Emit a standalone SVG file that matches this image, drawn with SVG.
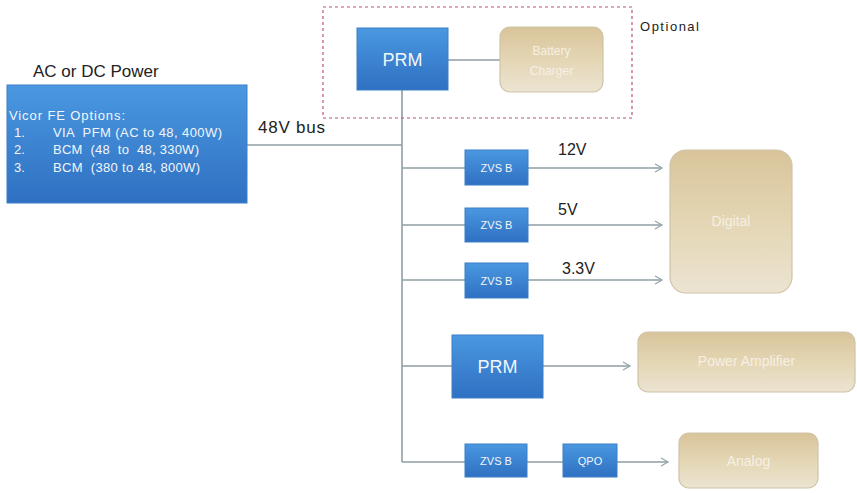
<svg xmlns="http://www.w3.org/2000/svg" width="857" height="493" viewBox="0 0 857 493">
<defs>
<linearGradient id="blue" x1="0" y1="0" x2="0" y2="1"><stop offset="0" stop-color="#4a98e0"/><stop offset="1" stop-color="#2f70c2"/></linearGradient>
<linearGradient id="tan" x1="0" y1="0" x2="0" y2="1"><stop offset="0" stop-color="#d8c49a"/><stop offset="0.5" stop-color="#e4d6b4"/><stop offset="1" stop-color="#ece4d2"/></linearGradient>
<marker id="arr" markerWidth="10" markerHeight="10" refX="8" refY="5" orient="auto" markerUnits="userSpaceOnUse"><path d="M1,1 L8,5 L1,9" fill="none" stroke="#97a6ad" stroke-width="1.3"/></marker>
</defs>
<style>
.b{fill:url(#blue);stroke:#3d7fc8;stroke-width:1}
.t{fill:url(#tan);stroke:#cfc3a8;stroke-width:1.2}
.ln{stroke:#8f9ea5;stroke-width:1.6;fill:none}
.w{fill:#f2f6fb;font-family:"Liberation Sans",Arial,sans-serif}
.wt{fill:#f6f0e4;font-family:"Liberation Sans",Arial,sans-serif;text-anchor:middle}
.k{fill:#222;font-family:"Liberation Sans",Arial,sans-serif}
</style>
<rect width="857" height="493" fill="#fff"/>
<g id="connectors">
<line class="ln" x1="247" y1="145" x2="402" y2="145"/>
<line class="ln" x1="402" y1="90" x2="402" y2="462"/>
<line class="ln" x1="448" y1="60" x2="500" y2="60"/>
<line class="ln" x1="402" y1="168" x2="465" y2="168"/>
<line class="ln" x1="528" y1="168" x2="662" y2="168" marker-end="url(#arr)"/>
<line class="ln" x1="402" y1="225" x2="465" y2="225"/>
<line class="ln" x1="528" y1="225" x2="662" y2="225" marker-end="url(#arr)"/>
<line class="ln" x1="402" y1="280" x2="465" y2="280"/>
<line class="ln" x1="528" y1="280" x2="662" y2="280" marker-end="url(#arr)"/>
<line class="ln" x1="402" y1="366" x2="452" y2="366"/>
<line class="ln" x1="543" y1="366" x2="630" y2="366" marker-end="url(#arr)"/>
<line class="ln" x1="402" y1="462" x2="465" y2="462"/>
<line class="ln" x1="527" y1="462" x2="563" y2="462"/>
<line class="ln" x1="617" y1="462" x2="668" y2="462" marker-end="url(#arr)"/>
</g>
<g id="optional">
<rect x="323" y="7" width="309" height="111" fill="none" stroke="#c0507a" stroke-width="1.2" stroke-dasharray="3,3"/>
<text class="k" x="640" y="31" font-size="13" textLength="59">Optional</text>
</g>
<g id="source">
<text class="k" x="33" y="77" font-size="17">AC or DC Power</text>
<rect class="b" x="7" y="85" width="240" height="118"/>
<text class="w" x="9" y="120" font-size="13" textLength="116">Vicor FE Options:</text>
<text class="w" x="14" y="137" font-size="13">1.</text>
<text class="w" x="53" y="137" font-size="13" textLength="169" xml:space="preserve">VIA  PFM (AC to 48, 400W)</text>
<text class="w" x="14" y="154" font-size="13">2.</text>
<text class="w" x="53" y="154" font-size="13" textLength="146" xml:space="preserve">BCM  (48  to  48, 330W)</text>
<text class="w" x="14" y="172" font-size="13">3.</text>
<text class="w" x="53" y="172" font-size="13" textLength="147" xml:space="preserve">BCM  (380 to 48, 800W)</text>
<text class="k" x="258" y="133" font-size="17" textLength="67">48V bus</text>
</g>
<g id="prm-top">
<rect class="b" x="357" y="28" width="91" height="62"/>
<text class="w" x="402.5" y="66" font-size="18" text-anchor="middle">PRM</text>
</g>
<g id="battery">
<rect class="t" x="500" y="27" width="103" height="65" rx="10"/>
<text class="wt" x="551.5" y="55" font-size="12">Battery</text>
<text class="wt" x="551.5" y="75" font-size="12">Charger</text>
</g>
<g id="zvs1">
<rect class="b" x="465" y="150" width="63" height="35"/>
<text class="w" x="496.5" y="172" font-size="11" text-anchor="middle">ZVS B</text>
<text class="k" x="558" y="155" font-size="16">12V</text>
</g>
<g id="zvs2">
<rect class="b" x="465" y="208" width="63" height="34"/>
<text class="w" x="496.5" y="229" font-size="11" text-anchor="middle">ZVS B</text>
<text class="k" x="558" y="215" font-size="16">5V</text>
</g>
<g id="zvs3">
<rect class="b" x="465" y="263" width="63" height="35"/>
<text class="w" x="496.5" y="285" font-size="11" text-anchor="middle">ZVS B</text>
<text class="k" x="562" y="274" font-size="16">3.3V</text>
</g>
<g id="digital">
<rect class="t" x="670" y="150" width="122" height="143" rx="16"/>
<text class="wt" x="731" y="226" font-size="14">Digital</text>
</g>
<g id="prm-pa">
<rect class="b" x="452" y="335" width="91" height="63"/>
<text class="w" x="497.5" y="373" font-size="18" text-anchor="middle">PRM</text>
</g>
<g id="power-amp">
<rect class="t" x="638" y="332" width="217" height="60" rx="10"/>
<text class="wt" x="746.5" y="366" font-size="14">Power Amplifier</text>
</g>
<g id="zvs4">
<rect class="b" x="465" y="444" width="62" height="33"/>
<text class="w" x="496" y="465" font-size="11" text-anchor="middle">ZVS B</text>
</g>
<g id="qpo">
<rect class="b" x="563" y="444" width="54" height="33"/>
<text class="w" x="590" y="465" font-size="11" text-anchor="middle">QPO</text>
</g>
<g id="analog">
<rect class="t" x="679" y="433" width="139" height="55" rx="10"/>
<text class="wt" x="748.5" y="466" font-size="14">Analog</text>
</g>
</svg>
